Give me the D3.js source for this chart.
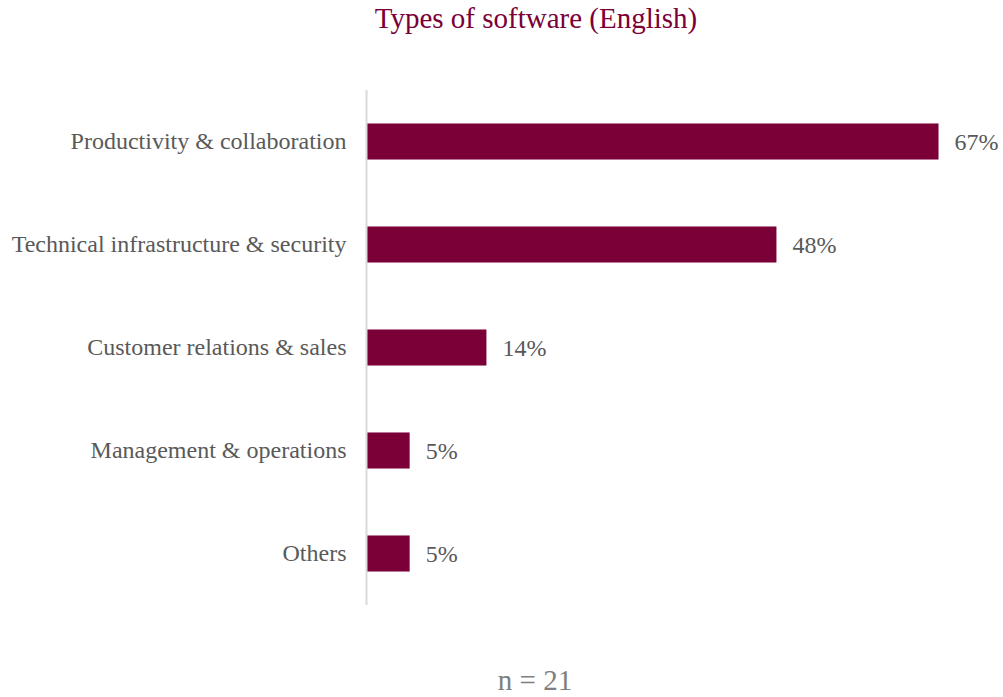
<!DOCTYPE html>
<html>
<head>
<meta charset="utf-8">
<script src="https://cdn.jsdelivr.net/npm/d3@7"></script>
<style>
  html, body { margin: 0; padding: 0; background: #ffffff; }
  svg { display: block; }
</style>
</head>
<body>
<svg id="chart" width="1003" height="697"></svg>
<script>
// Share of respondents using each type of software
const categories = [
  "Productivity & collaboration",
  "Technical infrastructure & security",
  "Customer relations & sales",
  "Management & operations",
  "Others"
];
const values = [67, 48, 14, 5, 5];
const titleText = "Types of software (English)";
const noteText = "n = 21";

const barColor = "#7a0037";
const labelColor = "#595959";
const fontFamily = "'Liberation Serif', 'Times New Roman', serif";

const svg = d3.select("#chart");

const x = d3.scaleLinear().domain([0, 100]).range([367, 367 + 853]);
const y = d3.scaleBand().domain(categories).range([90, 605]).paddingInner(0.65).paddingOuter(0.325);

// Title
svg.append("text")
  .attr("x", 536).attr("y", 28)
  .attr("text-anchor", "middle")
  .attr("font-family", fontFamily)
  .attr("font-size", 29)
  .attr("fill", barColor)
  .text(titleText);

// Bars
svg.append("g").selectAll("rect")
  .data(values)
  .join("rect")
  .attr("x", x(0))
  .attr("y", (d, i) => y(categories[i]))
  .attr("width", d => x(d) - x(0))
  .attr("height", y.bandwidth())
  .attr("fill", barColor);

// Category axis
const axis = svg.append("g")
  .attr("transform", `translate(${x(0) - 0.5},0)`)
  .call(d3.axisLeft(y).tickSize(0).tickPadding(20));
axis.select(".domain").attr("stroke", "#d9d9d9").attr("stroke-width", 2)
  .attr("d", "M0,90V605");
axis.selectAll("text")
  .attr("font-family", fontFamily)
  .attr("font-size", 24)
  .attr("fill", labelColor);

// Value labels
svg.append("g").selectAll("text")
  .data(values)
  .join("text")
  .attr("x", d => x(d) + 16)
  .attr("y", (d, i) => y(categories[i]) + y.bandwidth() / 2)
  .attr("dy", "0.35em")
  .attr("font-family", fontFamily)
  .attr("font-size", 24)
  .attr("fill", labelColor)
  .text(d => d + "%");

// Sample size note
svg.append("text")
  .attr("x", 535).attr("y", 690)
  .attr("text-anchor", "middle")
  .attr("font-family", fontFamily)
  .attr("font-size", 29)
  .attr("fill", "#7f7f7f")
  .text(noteText);
</script>
</body>
</html>
